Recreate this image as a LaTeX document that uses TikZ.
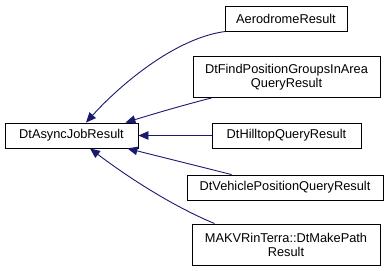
\documentclass[tikz,border=0pt]{standalone}
\usepackage{fontspec}
\setmainfont{Liberation Sans}
\usepackage{xcolor}
\definecolor{midnight}{RGB}{25,25,112}
\usetikzlibrary{arrows.meta}

\begin{document}
\begin{tikzpicture}[
  x=1pt, y=-1pt,
  font=\fontsize{12.8}{14}\selectfont,
  cls/.style={draw, fill=white, line width=0.9pt, align=center, inner sep=0pt, minimum height=25pt},
  inh/.style={-{Triangle[length=10pt,width=8.5pt]}, color=midnight, line width=0.9pt}
]
\useasboundingbox (0,0) rectangle (392,271);
\node[cls, minimum width=133pt] (base) at (71.5,135.5) {DtAsyncJobResult};
\node[cls, minimum width=122pt] (aero) at (286,18.5) {AerodromeResult};
\node[cls, minimum width=187pt, minimum height=41pt] (find) at (286.5,77) {DtFindPositionGroupsInArea\\QueryResult};
\node[cls, minimum width=149pt] (hill) at (286.5,135.5) {DtHilltopQueryResult};
\node[cls, minimum width=196pt] (veh) at (285,187.5) {DtVehiclePositionQueryResult};
\node[cls, minimum width=188pt, minimum height=41pt] (path) at (286,244.5) {MAKVRinTerra::DtMakePath\\Result};

\draw[inh] ([xshift=1pt]aero.south west) .. controls (175,38) and (120,85) .. ([xshift=14.5pt]base.north);
\draw[inh] ([xshift=19pt]find.south west) .. controls (180,106) and (150,115) .. ([xshift=-13pt]base.north east);
\draw[inh] (hill.west) -- (base.east);
\draw[inh] ([xshift=45pt]veh.north west) -- ([xshift=-11pt]base.south east);
\draw[inh] ([xshift=23pt]path.north west) .. controls (170,205) and (125,175) .. ([xshift=18.5pt]base.south);
\end{tikzpicture}
\end{document}
